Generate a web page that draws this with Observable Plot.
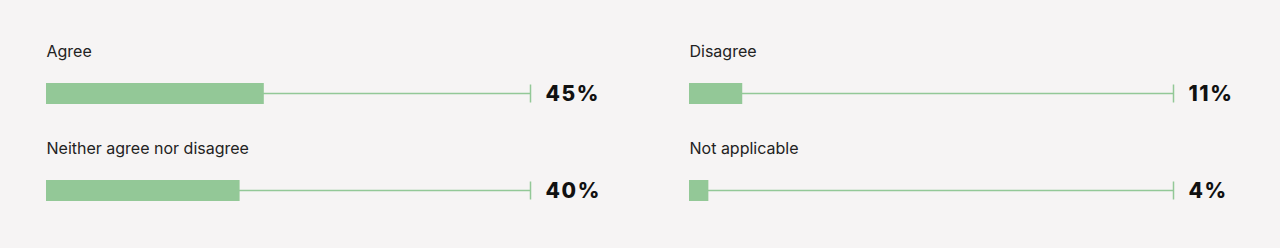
<!DOCTYPE html>
<html>
<head>
<meta charset="utf-8">
<script src="https://cdn.jsdelivr.net/npm/d3@7"></script>
<script src="https://cdn.jsdelivr.net/npm/@observablehq/plot@0.6"></script>
<style>
  html, body { margin: 0; padding: 0; background: #f6f4f4; }
  #chart svg { display: block; }
</style>
</head>
<body>
<div id="chart"></div>
<script>
const categories = ["Agree", "Neither agree nor disagree", "Disagree", "Not applicable"];
const values = [45, 40, 11, 4];
const columns = [0, 0, 1, 1];
const rows = [0, 1, 0, 1];
const valueLabels = ["45%", "40%", "11%", "4%"];

const data = categories.map((c, i) => ({
  category: c, value: values[i], col: columns[i], row: rows[i], label: valueLabels[i]
}));

const green = "#93c897";

const chart = Plot.plot({
  width: 1280,
  height: 248,
  marginLeft: 46,
  marginRight: 107,
  marginTop: 44.5,
  marginBottom: 9.5,
  style: { background: "#f6f4f4", overflow: "visible" },
  x: { domain: [0, 100], axis: null },
  fx: { domain: [0, 1], axis: null, paddingInner: 159 / 643, paddingOuter: 0 },
  fy: { domain: [0, 1], axis: null, padding: 0 },
  marks: [
    Plot.barX(data, { fx: "col", fy: "row", x1: 0, x2: 100, fill: green, insetTop: 47.75, insetBottom: 47.75 }),
    Plot.tickX(data, { fx: "col", fy: "row", x: () => 100, stroke: green, strokeWidth: 1.5, insetTop: 39.5, insetBottom: 39.5 }),
    Plot.barX(data, { fx: "col", fy: "row", x1: 0, x2: "value", fill: green, insetTop: 38, insetBottom: 38 }),
    Plot.text(data, { fx: "col", fy: "row", x: () => 0, text: "category", frameAnchor: "top-left", textAnchor: "start", lineAnchor: "middle", dy: 6.5, fill: "#222", fontSize: 16, fontFamily: "Inter, sans-serif" }),
    Plot.text(data, { fx: "col", fy: "row", x: () => 100, text: "label", frameAnchor: "middle", textAnchor: "start", lineAnchor: "middle", dx: 15, fill: "#111", fontSize: 21, fontWeight: 800, fontFamily: "Inter, sans-serif" })
  ]
});
d3.select(chart).selectAll("text")
  .filter(function () { return /%$/.test(this.textContent); })
  .style("letter-spacing", "1.6px");
document.getElementById("chart").appendChild(chart);
</script>
</body>
</html>
